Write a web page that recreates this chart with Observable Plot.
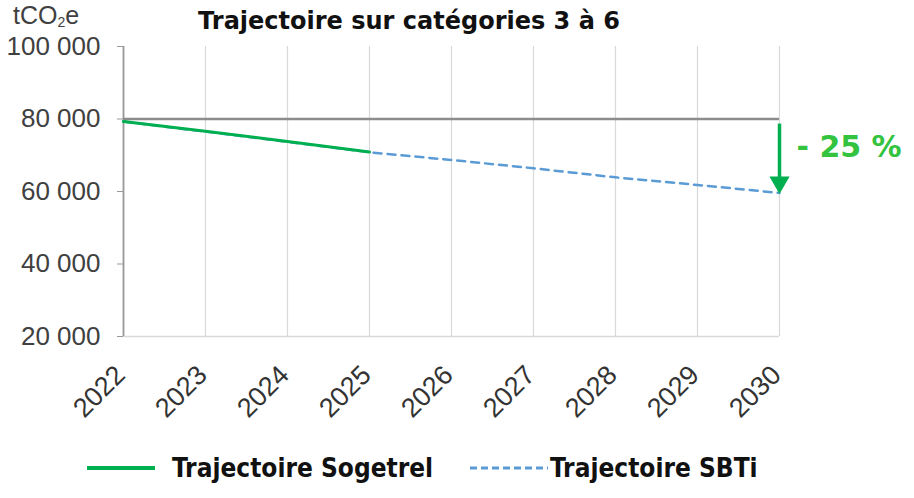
<!DOCTYPE html>
<html><head><meta charset="utf-8">
<script src="https://cdn.jsdelivr.net/npm/d3@7"></script>
<script src="https://cdn.jsdelivr.net/npm/@observablehq/plot@0.6"></script>
<style>
body{margin:0;background:#fff;font-family:"Liberation Sans",sans-serif}
#wrap{position:relative;width:914px;height:498px;overflow:hidden;background:#fff}
#title{position:absolute;left:0;width:818px;top:9px;text-align:center;font-family:"DejaVu Sans",sans-serif;font-weight:bold;font-size:24px;line-height:1;color:#111}
#unit{position:absolute;left:13px;top:3px;font-family:"Liberation Sans",sans-serif;font-size:25px;line-height:1;color:#404040}
#unit sub{font-size:14px;vertical-align:-3px}
#legend{position:absolute;left:0;top:451px;width:914px;height:34px;font-family:"DejaVu Sans Condensed","DejaVu Sans",sans-serif;font-size:26px;font-weight:bold;color:#111;line-height:34px}
#legend .item{position:absolute;top:0;display:flex;align-items:center}
#legend svg{display:block}
</style></head>
<body>
<div id="wrap">
  <div id="chart"></div>
  <div id="title"></div>
  <div id="unit"></div>
  <div id="legend"></div>
</div>
<script>
const years = [2022, 2023, 2024, 2025, 2026, 2027, 2028, 2029, 2030];
const sogetrelYears = [2022, 2023, 2024, 2025];
const sogetrelValues = [79300, 76600, 73800, 70900];
const sbtiValues = [79300, 76500, 73700, 70800, 68700, 66400, 63900, 61800, 59600];
const baselineValue = 80000;
const yTicks = [20000, 40000, 60000, 80000, 100000];
const reductionLabel = "- 25 %";
const titleText = "Trajectoire sur catégories 3 à 6";
const seriesNames = ["Trajectoire Sogetrel", "Trajectoire SBTi"];

const green = "#00b050";
const blue = "#5b9bd5";

const sogetrel = sogetrelYears.map((y, i) => ({year: y, value: sogetrelValues[i]}));
const sbti = years.map((y, i) => ({year: y, value: sbtiValues[i]}));

const fr = d3.formatLocale({decimal: ",", thousands: "\u00a0", grouping: [3], currency: ["", " €"]});
const fmt = fr.format(",");

const chart = Plot.plot({
  width: 914,
  height: 440,
  marginLeft: 123,
  marginRight: 135,
  marginTop: 46,
  marginBottom: 104,
  style: {fontFamily: "'Liberation Sans', sans-serif", background: "transparent", overflow: "visible"},
  x: {type: "linear", domain: [2022, 2030]},
  y: {domain: [20000, 100000]},
  marks: [
    Plot.ruleX(years, {x: d => d, stroke: "#d9d9d9", strokeWidth: 1.2}),
    Plot.ruleY([20000], {stroke: "#d9d9d9", strokeWidth: 1.5}),
    Plot.ruleX([2022], {stroke: "#999", strokeWidth: 1.8}),
    Plot.axisY({ticks: yTicks, tickFormat: fmt, tickSize: 6, tickPadding: 17, fontSize: 26, color: "#404040", stroke: "#999", label: null}),
    Plot.axisX({ticks: years, tickFormat: d => String(d), tickRotate: -45, tickSize: 0, tickPadding: 34, dx: -3, fontSize: 27, color: "#333", label: null}),
    Plot.ruleY([baselineValue], {x1: 2022, x2: 2030, stroke: "#8c8c8c", strokeWidth: 2.5}),
    Plot.line(sbti, {x: "year", y: "value", stroke: blue, strokeWidth: 2.5, strokeDasharray: "8,6"}),
    Plot.line(sogetrel, {x: "year", y: "value", stroke: green, strokeWidth: 3}),
    Plot.ruleX([2030], {y1: 78600, y2: 63000, stroke: green, strokeWidth: 3.5}),
    Plot.dot([2030], {x: d => d, y: 62500, symbol: "triangle", rotate: 180, r: 7.5, fill: green, stroke: "none"}),
    Plot.text([reductionLabel], {x: 2030, y: 72200, text: d => d, textAnchor: "start", dx: 17, fontSize: 30, fontFamily: "'DejaVu Sans', sans-serif", fontWeight: "bold", fill: "#33c33f"})
  ]
});
document.getElementById("chart").appendChild(chart);

document.getElementById("title").textContent = titleText;
document.getElementById("unit").innerHTML = "tCO<sub>2</sub>e";

const legend = document.getElementById("legend");
const items = [
  {name: seriesNames[0], color: green, dash: null, left: 87, w: 68, gap: 17, sw: 4},
  {name: seriesNames[1], color: blue, dash: "7,4", left: 470, w: 78, gap: 2, sw: 3}
];
for (const it of items) {
  const div = document.createElement("div");
  div.className = "item";
  div.style.left = it.left + "px";
  const svg = d3.create("svg").attr("width", it.w + it.gap).attr("height", 10);
  svg.append("line").attr("x1", 0).attr("x2", it.w).attr("y1", 5).attr("y2", 5)
    .attr("stroke", it.color).attr("stroke-width", it.sw).attr("stroke-dasharray", it.dash);
  div.appendChild(svg.node());
  const span = document.createElement("span");
  span.textContent = it.name;
  div.appendChild(span);
  legend.appendChild(div);
}
</script>
</body></html>
